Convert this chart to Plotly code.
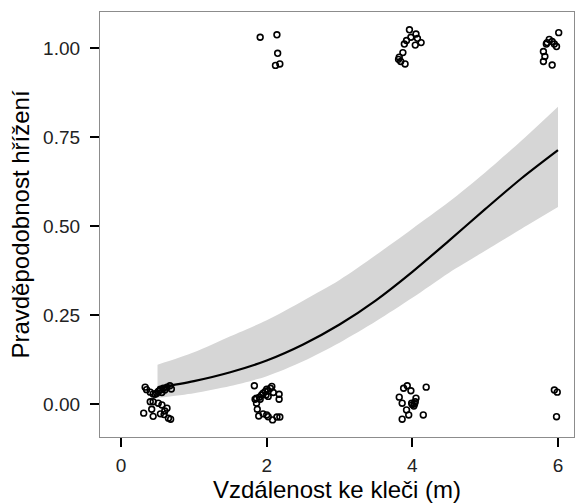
import plotly.graph_objects as go

# Fitted curve
curve_x = [0.5, 1.0, 1.5, 2.0, 2.5, 3.0, 3.5, 4.0, 4.5, 5.0, 5.5, 6.0]
curve_y = [0.045, 0.064, 0.089, 0.122, 0.167, 0.223, 0.291, 0.371, 0.458, 0.547, 0.634, 0.713]
ci_upper = [0.110, 0.145, 0.190, 0.235, 0.290, 0.348, 0.418, 0.492, 0.567, 0.650, 0.740, 0.835]
ci_lower = [0.017, 0.030, 0.050, 0.078, 0.120, 0.172, 0.232, 0.298, 0.368, 0.430, 0.492, 0.553]

pts_x = [
    # y ~ 1
    1.91, 2.14, 2.15, 2.12, 2.18,
    3.96, 4.05, 3.98, 3.92, 3.89, 4.07, 4.12, 4.04, 3.87, 3.82, 3.81, 3.84, 3.90,
    6.01, 5.88, 5.85, 5.92, 5.95, 5.98, 5.84, 5.80, 5.82, 5.80, 5.92,
    # y ~ 0
    0.33, 0.35, 0.40, 0.44, 0.49, 0.51, 0.56, 0.54, 0.58, 0.60, 0.63, 0.67, 0.69, 0.53,
    0.47, 0.40, 0.44, 0.51, 0.56, 0.31, 0.42, 0.44, 0.54, 0.60, 0.63, 0.59, 0.65, 0.68,
    1.83, 1.86, 1.90, 1.93, 1.95, 1.98, 2.00, 2.02, 2.05, 2.07, 1.99, 2.02, 2.09, 2.17,
    2.17, 1.86, 1.87, 1.89, 1.95, 2.00, 2.02, 2.08, 2.14, 2.18, 1.91, 1.84,
    3.88, 3.93, 3.98, 4.19, 3.82, 3.86, 3.99, 4.02, 4.04, 4.05, 3.92, 3.95, 3.86, 4.15,
    4.00, 4.03,
    5.95, 5.99, 5.98,
]
pts_y = [
    1.030, 1.037, 0.985, 0.951, 0.955,
    1.051, 1.039, 1.030, 1.021, 1.011, 1.027, 1.015, 1.008, 0.987, 0.974, 0.968, 0.962, 0.955,
    1.043, 1.024, 1.015, 1.018, 1.011, 1.004, 1.011, 0.990, 0.976, 0.962, 0.952,
    0.047, 0.040, 0.033, 0.028, 0.030, 0.035, 0.032, 0.041, 0.044, 0.039, 0.047, 0.051, 0.042, 0.038,
    0.027, 0.006, 0.006, 0.002, -0.003, -0.026, -0.015, -0.035, -0.028, -0.020, -0.012, -0.030, -0.040, -0.043,
    0.051, 0.016, 0.019, 0.025, 0.030, 0.035, 0.041, 0.037, 0.044, 0.049, 0.025, 0.021, 0.032, 0.027,
    0.013, 0.002, -0.015, -0.034, -0.028, -0.031, -0.036, -0.045, -0.037, -0.037, 0.013, 0.013,
    0.044, 0.051, 0.037, 0.047, 0.019, 0.002, 0.002, -0.006, 0.006, 0.016, -0.017, -0.031, -0.043, -0.031,
    -0.002, 0.000,
    0.039, 0.033, -0.036,
]

y_ticks = [0.0, 0.25, 0.5, 0.75, 1.0]
y_labels = ["0.00", "0.25", "0.50", "0.75", "1.00"]
x_ticks = [0, 2, 4, 6]

fig = go.Figure()
fig.add_trace(go.Scatter(x=curve_x, y=ci_lower, mode="lines", line=dict(width=0, shape="spline", smoothing=0.8),
                         showlegend=False, hoverinfo="skip"))
fig.add_trace(go.Scatter(x=curve_x, y=ci_upper, mode="lines", line=dict(width=0, shape="spline", smoothing=0.8),
                         fill="tonexty", fillcolor="#d6d6d6", showlegend=False, hoverinfo="skip"))
fig.add_trace(go.Scatter(x=curve_x, y=curve_y, mode="lines",
                         line=dict(color="black", width=2.2, shape="spline", smoothing=0.8),
                         showlegend=False))
fig.add_trace(go.Scatter(x=pts_x, y=pts_y, mode="markers",
                         marker=dict(symbol="circle-open", size=5.8, color="black", line=dict(width=1.6)),
                         showlegend=False))

fig.update_layout(
    width=575, height=503,
    margin=dict(l=100, r=1, t=12, b=66),
    plot_bgcolor="white", paper_bgcolor="white",
    font=dict(family="Liberation Sans, Arial, sans-serif", color="black"),
)
fig.update_xaxes(
    range=[-0.29, 6.22], tickvals=x_ticks, ticktext=[str(v) for v in x_ticks],
    showgrid=False, zeroline=False,
    showline=True, linecolor="#8c8c8c", linewidth=1.2, mirror=True,
    ticks="outside", ticklen=9, tickwidth=2, tickcolor="black",
    tickfont=dict(size=19, color="#222222"), ticklabelstandoff=2,
    title=dict(text="Vzdálenost ke kleči (m)", font=dict(size=24, color="black"), standoff=6),
)
fig.update_yaxes(
    range=[-0.093, 1.101], tickvals=y_ticks, ticktext=y_labels,
    showgrid=False, zeroline=False,
    showline=True, linecolor="#8c8c8c", linewidth=1.2, mirror=True,
    ticks="outside", ticklen=9, tickwidth=2, tickcolor="black",
    tickfont=dict(size=19, color="#222222"), ticklabelstandoff=6,
    title=dict(text="Pravděpodobnost hřížení", font=dict(size=24, color="black"), standoff=6),
)

fig.write_html("out.html")
